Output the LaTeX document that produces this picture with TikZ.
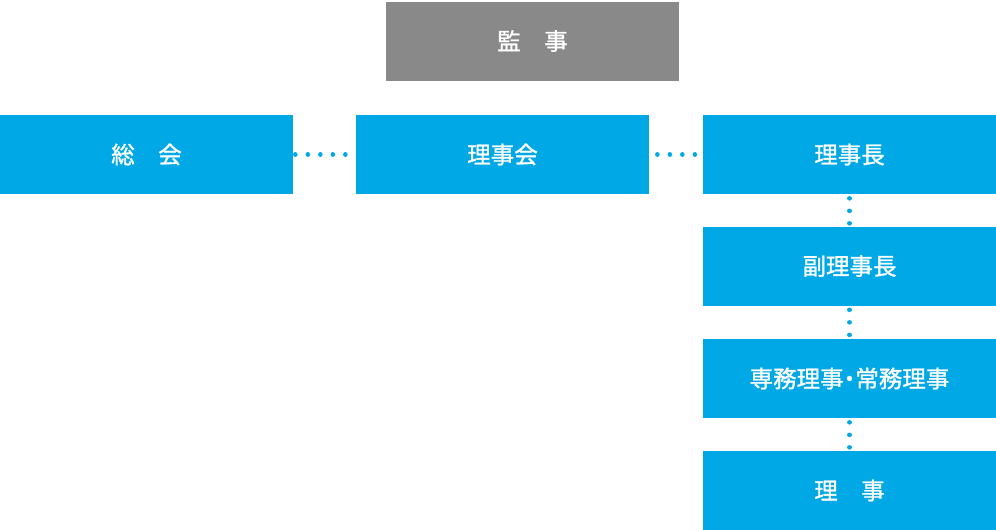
\documentclass[tikz,border=0pt]{standalone}
\usepackage{fontspec}
\newfontfamily\jpfont[FakeBold=1.2]{Noto Sans CJK JP}
\definecolor{boxblue}{HTML}{00A9E6}
\definecolor{boxgray}{HTML}{898989}
\def\orgbox{\node[text=white,minimum width=293pt,minimum height=79pt,inner sep=0pt,font=\jpfont\fontsize{23.5}{28}\selectfont]}
\def\drawdots{\draw[color=boxblue, line width=4.2pt, line cap=round, dash pattern=on 0.3pt off 12.2pt]}

\begin{document}
\begin{tikzpicture}[x=1pt,y=-1pt]
\useasboundingbox (0,0) rectangle (996,530);
\orgbox[fill=boxgray] (kanji) at (532.5,41) {監　事};
\orgbox[fill=boxblue] (sokai) at (146.5,154.5) {総　会};
\orgbox[fill=boxblue] (rijikai) at (502.5,154.5) {理事会};
\orgbox[fill=boxblue] (rijicho) at (849.5,154.5) {理事長};
\orgbox[fill=boxblue] (fuku) at (849.5,266) {副理事長};
\orgbox[fill=boxblue] (senmu) at (849.5,378.5) {専務理事\hspace{-0.25em}・\hspace{-0.25em}常務理事};
\orgbox[fill=boxblue] (riji) at (849.5,490.5) {理　事};
% dotted links
\drawdots[shorten <=2pt] (sokai.east) -- (rijikai.west);
\drawdots[shorten <=8pt] (rijikai.east) -- (rijicho.west);
\drawdots[shorten <=4pt] (rijicho.south) -- (fuku.north);
\drawdots[shorten <=4pt] (fuku.south) -- (senmu.north);
\drawdots[shorten <=4pt] (senmu.south) -- (riji.north);
\end{tikzpicture}
\end{document}
